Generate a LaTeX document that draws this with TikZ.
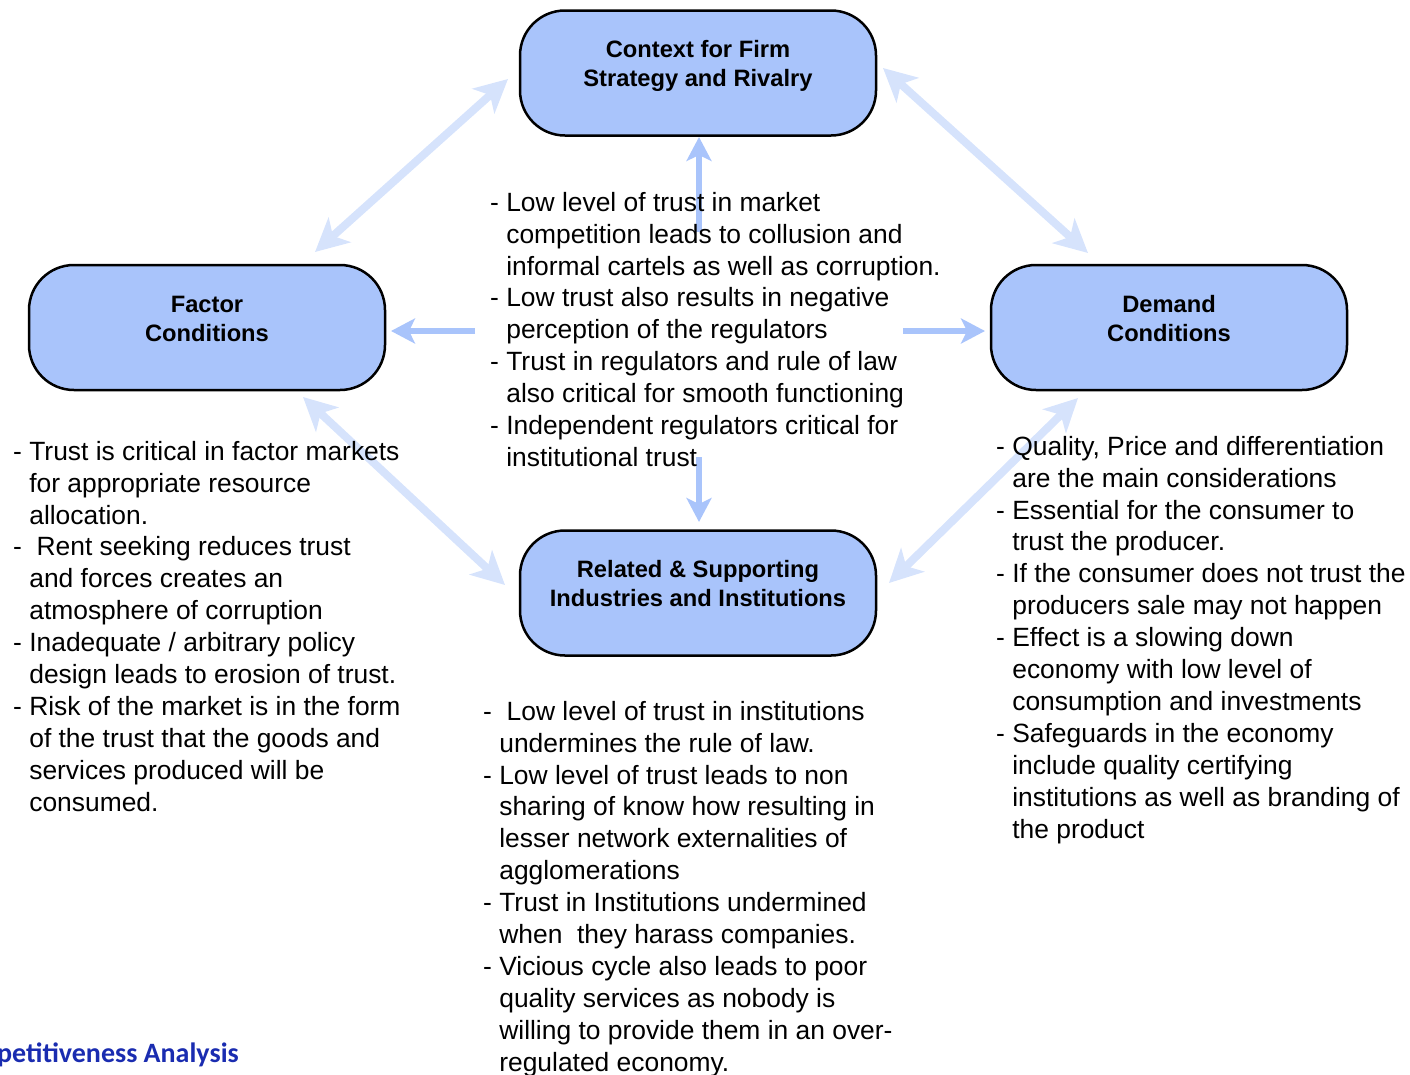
\documentclass[tikz,border=0pt]{standalone}
\usepackage{fontspec}
\setmainfont{Liberation Sans}
\newfontfamily\carlito{Carlito}
\usetikzlibrary{arrows.meta}
\definecolor{boxfill}{HTML}{A9C4FB}
\definecolor{diagarrow}{HTML}{D6E3FC}
\definecolor{strarrow}{HTML}{A9C4FB}
\definecolor{titleblue}{HTML}{1A2CB0}
\newcommand\hind{\hphantom{-\ }}
\begin{document}
\begin{tikzpicture}[x=1pt,y=-1pt,
  forcebox/.style={draw=black, line width=2.5pt, fill=boxfill, rounded corners=45pt,
    minimum width=356pt, minimum height=125pt, inner sep=0pt},
  boxlabel/.style={font=\bfseries\fontsize{23.7}{29}\selectfont, align=center, inner sep=0pt, anchor=north},
  bullets/.style={font=\fontsize{26.4}{31.9}\selectfont, align=left, inner sep=0pt, anchor=north west},
  diag/.style={draw=diagarrow, line width=8pt,
    {Stealth[length=33pt,width=33pt,inset=9pt]}-{Stealth[length=33pt,width=33pt,inset=9pt]}},
  straight/.style={draw=strarrow, line width=5.5pt, -{Stealth[length=24pt,width=25pt,inset=6pt]}}
]
\clip (0,0) rectangle (1410,1074);
\useasboundingbox (0,0) rectangle (1410,1074);

% boxes
\node[forcebox] (ctx) at (698,73) {};
\node[forcebox] (factor) at (207,327.5) {};
\node[forcebox] (demand) at (1169,327.5) {};
\node[forcebox] (related) at (698,593) {};

\node[boxlabel] (ctxT) at ([yshift=35.8pt]ctx.center) {\strut Context for Firm\\Strategy and Rivalry};
\node[boxlabel] (factorT) at ([yshift=35.3pt]factor.center) {\strut Factor\\Conditions};
\node[boxlabel] (demandT) at ([yshift=35.3pt]demand.center) {\strut Demand\\Conditions};
\node[boxlabel] (relatedT) at ([yshift=35.8pt]related.center) {\strut Related \& Supporting\\Industries and Institutions};

% arrow end points
\coordinate (a1) at (508,79);
\coordinate (a2) at (315,252);
\coordinate (b1) at (883,68);
\coordinate (b2) at (1088,253);
\coordinate (c1) at (303,397);
\coordinate (c2) at (505,585);
\coordinate (d1) at (1078,398);
\coordinate (d2) at (889,583);
\coordinate (h1s) at (475,331);
\coordinate (h1e) at (391,331);
\coordinate (h2s) at (903,331);
\coordinate (h2e) at (985,331);
\coordinate (v1s) at (699,232);
\coordinate (v1e) at (699,137);
\coordinate (v2s) at (699,457);
\coordinate (v2e) at (699,522);

\draw[diag] (a1) -- (a2);
\draw[diag] (b1) -- (b2);
\draw[diag] (c1) -- (c2);
\draw[diag] (d1) -- (d2);
\draw[straight] (h1s) -- (h1e);
\draw[straight] (h2s) -- (h2e);
\draw[straight] (v1s) -- (v1e);
\draw[straight] (v2s) -- (v2e);

% text blocks
\node[bullets] (centerT) at (490,188.7) {\strut - Low level of trust in market\\
\hind competition leads to collusion and\\
\hind informal cartels as well as corruption.\\
- Low trust also results in negative\\
\hind perception of the regulators\\
- Trust in regulators and rule of law\\
\hind also critical for smooth functioning\\
- Independent regulators critical for\\
\hind institutional trust};

\node[bullets] (leftT) at (13,437.7) {\strut - Trust is critical in factor markets\\
\hind for appropriate resource\\
\hind allocation.\\
-\ \ Rent seeking reduces trust\\
\hind and forces creates an\\
\hind atmosphere of corruption\\
- Inadequate / arbitrary policy\\
\hind design leads to erosion of trust.\\
- Risk of the market is in the form\\
\hind of the trust that the goods and\\
\hind services produced will be\\
\hind consumed.};

\node[bullets] (rightT) at (996,432.7) {\strut - Quality, Price and differentiation\\
\hind are the main considerations\\
- Essential for the consumer to\\
\hind trust the producer.\\
- If the consumer does not trust the\\
\hind producers sale may not happen\\
- Effect is a slowing down\\
\hind economy with low level of\\
\hind consumption and investments\\
- Safeguards in the economy\\
\hind include quality certifying\\
\hind institutions as well as branding of\\
\hind the product};

\node[bullets] (bottomT) at (483,697.7) {\strut -\ \ Low level of trust in institutions\\
\hind undermines the rule of law.\\
- Low level of trust leads to non\\
\hind sharing of know how resulting in\\
\hind lesser network externalities of\\
\hind agglomerations\\
- Trust in Institutions undermined\\
\hind when\ \ they harass companies.\\
- Vicious cycle also leads to poor\\
\hind quality services as nobody is\\
\hind willing to provide them in an over-\\
\hind regulated economy.};

\node[anchor=base east, inner sep=0pt, text=titleblue,
  font=\carlito\bfseries\fontsize{28}{34}\selectfont] (title) at (239,1062) {Competitiveness Analysis};
\end{tikzpicture}
\end{document}
